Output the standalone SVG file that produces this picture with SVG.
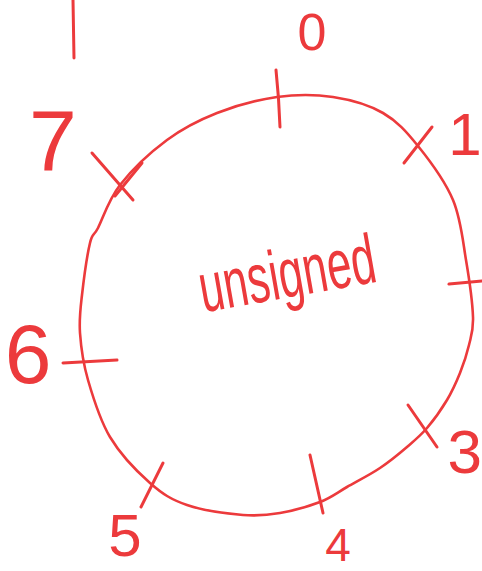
<svg xmlns="http://www.w3.org/2000/svg" width="482" height="571" viewBox="0 0 482 571">
<style>
.ink{fill:none;stroke:#ec3a3c;stroke-width:2.6;stroke-linecap:round;stroke-linejoin:round}
.tk{fill:none;stroke:#ec3a3c;stroke-width:3;stroke-linecap:round}
.lbl{fill:#ec3a3c;font-family:"Liberation Sans","DejaVu Sans",sans-serif;text-anchor:middle}
</style>
<rect width="482" height="571" fill="#ffffff"/>
<g id="dial">
<path class="ink" d="M277,97 C296.3,94.3 315.3,94.3 333,97 C350.7,99.7 368.8,104.8 383,113 C397.2,121.2 406.3,131.5 418,146 C429.7,160.5 445,181 453,200 C461,219 462.7,240.5 466,260 C469.3,279.5 472.5,302.8 473,317 C473.5,331.2 471.2,335.7 469,345 C466.8,354.3 463.7,363.8 460,373 C456.3,382.2 452.5,390.8 447,400 C441.5,409.2 433.7,420.2 427,428 C420.3,435.8 414.8,440.3 407,447 C399.2,453.7 390,461.3 380,468 C370,474.7 357,481.3 347,487 C337,492.7 331.2,497.7 320,502 C308.8,506.3 292.8,510.8 280,513 C267.2,515.2 258.5,516.3 243,515 C227.5,513.7 202.5,510.3 187,505 C171.5,499.7 162.8,494.3 150,483 C137.2,471.7 120.3,454.2 110,437 C99.7,419.8 93,397.3 88,380 C83,362.7 81,347.2 80,333 C79,318.8 80.3,310 82,295 C83.7,280 87.3,254.2 90,243 C92.7,231.8 93,237.7 98,228 C103,218.3 108.5,199.7 120,185 C131.5,170.3 150.8,152 167,140 C183.2,128 198.7,120.2 217,113 C235.3,105.8 258.7,99.7 277,97 Z"/>
<text class="lbl" x="0" y="0" font-size="70" transform="translate(291 297) rotate(-10) scale(0.627 1)">unsigned</text>
</g>
<g id="ticks">
<line class="tk" x1="73" y1="0" x2="74" y2="58"/>
<path class="tk" d="M276,70 Q279,98 280,127"/>
<line class="tk" x1="432" y1="127" x2="404" y2="163"/>
<line class="tk" x1="449" y1="284" x2="482" y2="281"/>
<line class="tk" x1="408" y1="405" x2="437" y2="447"/>
<line class="tk" x1="310" y1="455" x2="323" y2="513"/>
<line class="tk" x1="163" y1="463" x2="141" y2="507"/>
<line class="tk" x1="63" y1="363" x2="117" y2="360"/>
<line class="tk" x1="92" y1="153" x2="133" y2="200"/>
<line class="tk" x1="142" y1="163" x2="115" y2="196"/>
</g>
<g id="labels">
<text class="lbl" x="312" y="50" font-size="52">0</text>
<text class="lbl" x="465" y="155" font-size="60">1</text>
<text class="lbl" x="482" y="473" font-size="62" style="text-anchor:end">3</text>
<text class="lbl" x="338" y="561" font-size="46">4</text>
<text class="lbl" x="125" y="556" font-size="60">5</text>
<text class="lbl" x="28" y="383" font-size="84">6</text>
<text class="lbl" x="53" y="170" font-size="86">7</text>
</g>
</svg>
